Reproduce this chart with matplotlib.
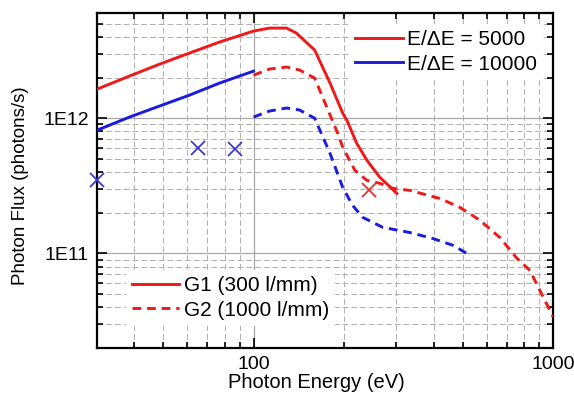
import matplotlib
matplotlib.use("Agg")
import matplotlib.pyplot as plt
import matplotlib.ticker as ticker
from matplotlib.lines import Line2D

plt.rcParams['font.family'] = ['Liberation Sans', 'DejaVu Sans']

# photon energy (eV) and flux (photons/s)
g1_5000_e = [30, 38.5, 48.5, 61, 77, 100, 113, 129, 139, 160, 180, 198.5, 205, 221, 239, 264, 301]
g1_5000_f = [1.64e12, 2.05e12, 2.51e12, 3.03e12, 3.66e12, 4.41e12, 4.64e12, 4.64e12, 4.26e12,
             3.19e12, 1.82e12, 1.09e12, 9.66e11, 6.53e11, 4.89e11, 3.66e11, 2.78e11]

g2_5000_e = [100, 113, 129, 142.5, 160, 175.5, 191, 198.5, 218, 239, 264, 292, 332, 419, 489,
             570, 665, 758, 838, 904, 1000]
g2_5000_f = [2.08e12, 2.31e12, 2.39e12, 2.27e12, 1.98e12, 1.21e12, 7.74e11, 6.10e11, 4.12e11,
             3.47e11, 3.30e11, 3.03e11, 2.93e11, 2.55e11, 2.19e11, 1.76e11, 1.31e11, 9.2e10,
             7.48e10, 5.32e10, 3.41e10]

g1_10000_e = [30, 38.5, 48.5, 61, 77, 100]
g1_10000_f = [8.15e11, 1.02e12, 1.23e12, 1.48e12, 1.82e12, 2.23e12]

g2_10000_e = [100, 113, 129, 142.5, 160, 180, 198.5, 214, 231.5, 270, 332, 397, 463, 516]
g2_10000_f = [1.02e12, 1.13e12, 1.19e12, 1.15e12, 1.0e12, 5.5e11, 3.08e11, 2.27e11, 1.85e11,
              1.56e11, 1.43e11, 1.29e11, 1.15e11, 1.0e11]

# measured points
blue_x_e = [30, 65, 87]
blue_x_f = [3.47e11, 6.0e11, 5.89e11]
red_x_e = [242.5]
red_x_f = [2.93e11]

RED = '#f01818'
BLUE = '#1a1ae0'

fig = plt.figure(figsize=(5.74, 4.01), dpi=100)
ax = fig.add_axes([97/574, 1-348/401, 456/574, 335/401])

lw = 2.1
ax.plot(g1_5000_e, g1_5000_f, color=RED, lw=lw, zorder=3)
ax.plot(g2_5000_e, g2_5000_f, color=RED, lw=lw, dashes=(3, 2), zorder=3)
ax.plot(g1_10000_e, g1_10000_f, color=BLUE, lw=lw, zorder=3)
ax.plot(g2_10000_e, g2_10000_f, color=BLUE, lw=lw, dashes=(3, 2), zorder=3)

ax.plot(blue_x_e, blue_x_f, 'x', color='#3a3ad0', ms=10, mew=1.3, ls='none', clip_on=False, zorder=4)
ax.plot(red_x_e, red_x_f, 'x', color='#e03030', ms=10, mew=1.3, ls='none', zorder=4)

ax.set_xscale('log')
ax.set_yscale('log')
ax.set_xlim(30, 1000)
ax.set_ylim(2e10, 6e12)

ax.xaxis.set_major_locator(ticker.FixedLocator([100, 1000]))
ax.xaxis.set_major_formatter(ticker.FixedFormatter(['100', '1000']))
ax.xaxis.set_minor_locator(ticker.LogLocator(base=10, subs=range(2, 10)))
ax.xaxis.set_minor_formatter(ticker.NullFormatter())
ax.yaxis.set_major_locator(ticker.FixedLocator([1e11, 1e12]))
ax.yaxis.set_major_formatter(ticker.FixedFormatter(['1E11', '1E12']))
ax.yaxis.set_minor_locator(ticker.LogLocator(base=10, subs=range(2, 10)))
ax.yaxis.set_minor_formatter(ticker.NullFormatter())

ax.tick_params(which='both', direction='in', top=True, right=True, labelsize=14, width=1.2)
ax.tick_params(which='major', length=7, pad=6)
ax.tick_params(which='minor', length=4)
for s in ax.spines.values():
    s.set_linewidth(1.6)

ax.grid(which='major', color='#a8a8a8', linestyle='-', linewidth=0.9)
ax.grid(which='minor', color='#b0b0b0', linestyle=(0, (6, 3)), linewidth=0.7)
ax.set_axisbelow(True)

ax.set_xlabel('Photon Energy (eV)', fontsize=14.5)
ax.set_ylabel('Photon Flux (photons/s)', fontsize=13.5)
ax.xaxis.set_label_coords(0.48, -0.075)
ax.yaxis.set_label_coords(-0.15, 0.484)

h1 = [Line2D([], [], color=RED, lw=lw), Line2D([], [], color=BLUE, lw=lw)]
leg1 = ax.legend(h1, ['E/\u0394E = 5000', 'E/\u0394E = 10000'], loc='upper left',
                 bbox_to_anchor=(0.553, 0.967), borderaxespad=0, fontsize=15, frameon=True,
                 fancybox=False, edgecolor='none', facecolor='white', framealpha=1,
                 handlelength=2.26, handletextpad=0.2, labelspacing=0.25, borderpad=0.3)
ax.add_artist(leg1)

h2 = [Line2D([], [], color=RED, lw=lw), Line2D([], [], color=RED, lw=lw, dashes=(3, 2))]
ax.legend(h2, ['G1 (300 l/mm)', 'G2 (1000 l/mm)'], loc='lower left',
          bbox_to_anchor=(0.0636, 0.066), borderaxespad=0, fontsize=15, frameon=True,
          fancybox=False, edgecolor='none', facecolor='white', framealpha=1,
          handlelength=2.26, handletextpad=0.2, labelspacing=0.25, borderpad=0.3)

fig.savefig('out.png', dpi=100)
